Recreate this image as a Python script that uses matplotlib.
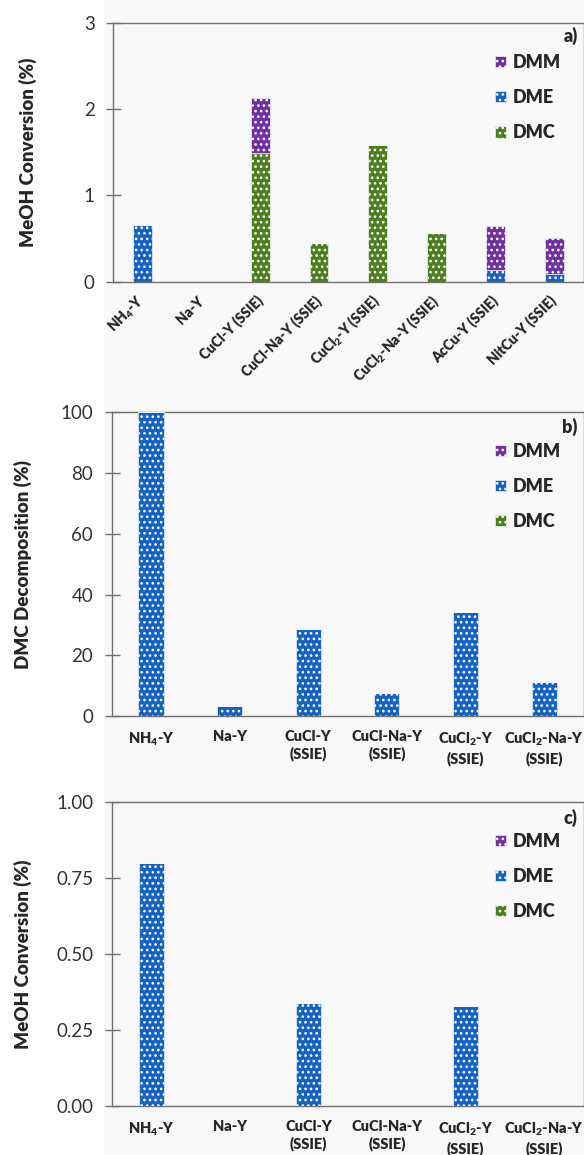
import matplotlib
matplotlib.use('Agg')
import matplotlib.pyplot as plt
from matplotlib.patches import Rectangle
import numpy as np

plt.rcParams['font.family'] = ['Lato', 'DejaVu Sans']
plt.rcParams['mathtext.fontset'] = 'custom'
plt.rcParams['mathtext.rm'] = 'Lato'
plt.rcParams['mathtext.bf'] = 'Lato:heavy'
plt.rcParams['hatch.linewidth'] = 1.1

# panel a) MeOH conversion, 8 catalysts
labels_a = ['NH$_\\mathbf{4}$-Y', 'Na-Y', 'CuCl-Y (SSIE)', 'CuCl-Na-Y (SSIE)',
            'CuCl$_\\mathbf{2}$-Y (SSIE)', 'CuCl$_\\mathbf{2}$-Na-Y (SSIE)',
            'AcCu-Y (SSIE)', 'NitCu-Y (SSIE)']
dme_a = [0.66, 0, 0, 0, 0, 0, 0.13, 0.09]
dmc_a = [0, 0, 1.49, 0.45, 1.58, 0.56, 0, 0]
dmm_a = [0, 0, 0.64, 0, 0, 0, 0.52, 0.42]

# panels b) and c), 6 catalysts
labels_bc = ['NH$_\\mathbf{4}$-Y', 'Na-Y', 'CuCl-Y\n(SSIE)', 'CuCl-Na-Y\n(SSIE)',
             'CuCl$_\\mathbf{2}$-Y\n(SSIE)', 'CuCl$_\\mathbf{2}$-Na-Y\n(SSIE)']
dme_b = [100, 3.3, 28.7, 7.7, 34.1, 11.3]
dmc_b = [0, 0, 0, 0, 0, 0]
dmm_b = [0, 0, 0, 0, 0, 0]
dme_c = [0.80, 0, 0.34, 0, 0.33, 0]
dmc_c = [0, 0, 0, 0, 0, 0]
dmm_c = [0, 0, 0, 0, 0, 0]

series = ['DMM', 'DME', 'DMC']
colors = {'DMM': '#7030a0', 'DME': '#1462c4', 'DMC': '#4f7d22'}

W, H = 584, 1155
BG = '#f8f8f8'
SPINE = '#707070'
TXT = '#262626'
BOLD = 'heavy'

fig = plt.figure(figsize=(W / 100, H / 100), dpi=100)
fig.patches.append(Rectangle((104 / W, 0), 1, 1, transform=fig.transFigure,
                             color=BG, zorder=-10))


def px_axes(left, top, bottom, right=583.5):
    return [left / W, 1 - bottom / H, (right - left) / W, (bottom - top) / H]


def panel(rect, labels, dme, dmc, dmm, ylim, yticks, yfmt, ylabel, tag,
          rotated, leg_top, ylab_x, tag_y):
    ax = fig.add_axes(rect)
    ax.set_facecolor(BG)
    x = np.arange(len(labels))
    dme = np.array(dme, float)
    dmc = np.array(dmc, float)
    dmm = np.array(dmm, float)
    kw = dict(width=0.32, edgecolor='white', linewidth=0.4, hatch='...', zorder=3)
    b_dme = ax.bar(x, dme, color=colors['DME'], **kw)
    b_dmc = ax.bar(x, dmc, bottom=dme, color=colors['DMC'], **kw)
    b_dmm = ax.bar(x, dmm, bottom=dme + dmc, color=colors['DMM'], **kw)

    ax.set_xlim(-0.5, len(labels) - 0.5)
    ax.set_ylim(*ylim)
    ax.set_yticks(yticks)
    ax.set_yticklabels([yfmt.format(v) for v in yticks])
    for s in ax.spines.values():
        s.set_color(SPINE)
        s.set_linewidth(1.0)
    ax.tick_params(axis='y', direction='inout', length=10.8, width=1.0,
                   color=SPINE, labelsize=13.5, labelcolor='#333333', pad=8)
    ax.set_xticks(x)
    if rotated:
        ax.set_xticklabels(labels, rotation=45, ha='right', va='center',
                           rotation_mode='anchor', fontsize=10,
                           fontweight=BOLD, color=TXT)
        ax.tick_params(axis='x', length=0, pad=12)
    else:
        ax.set_xticklabels(labels, fontsize=10.5, fontweight=BOLD, color=TXT,
                           linespacing=1.3)
        ax.tick_params(axis='x', length=0, pad=10)

    ax.set_ylabel(ylabel, fontsize=13.5, fontweight=BOLD, color=TXT)
    ax.yaxis.set_label_coords(ylab_x, 0.5)

    ax.text(0.988, tag_y, tag, transform=ax.transAxes, ha='right', va='center',
            fontsize=13, fontweight=BOLD, color=TXT)

    leg = ax.legend([b_dmm, b_dme, b_dmc], series, loc='upper left',
                    bbox_to_anchor=(0.812, leg_top), frameon=False,
                    prop={'size': 13, 'weight': BOLD},
                    handlelength=0.6, handleheight=0.6, handletextpad=0.4,
                    labelspacing=1.0, borderpad=0, borderaxespad=0)
    for t in leg.get_texts():
        t.set_color(TXT)
    return ax


panel(px_axes(113.3, 22.7, 281.7), labels_a, dme_a, dmc_a, dmm_a,
      (0, 3), [0, 1, 2, 3], '{:.0f}', 'MeOH Conversion (%)', 'a)',
      True, 0.879, -0.162, 0.949)

panel(px_axes(111.7, 412.3, 716), labels_bc, dme_b, dmc_b, dmm_b,
      (0, 100), [0, 20, 40, 60, 80, 100], '{:.0f}', 'DMC Decomposition (%)', 'b)',
      False, 0.90, -0.169, 0.953)

panel(px_axes(112, 802.3, 1106), labels_bc, dme_c, dmc_c, dmm_c,
      (0, 1), [0, 0.25, 0.5, 0.75, 1.0], '{:.2f}', 'MeOH Conversion (%)', 'c)',
      False, 0.90, -0.169, 0.948)

fig.savefig('out.png', dpi=100, facecolor='white')
